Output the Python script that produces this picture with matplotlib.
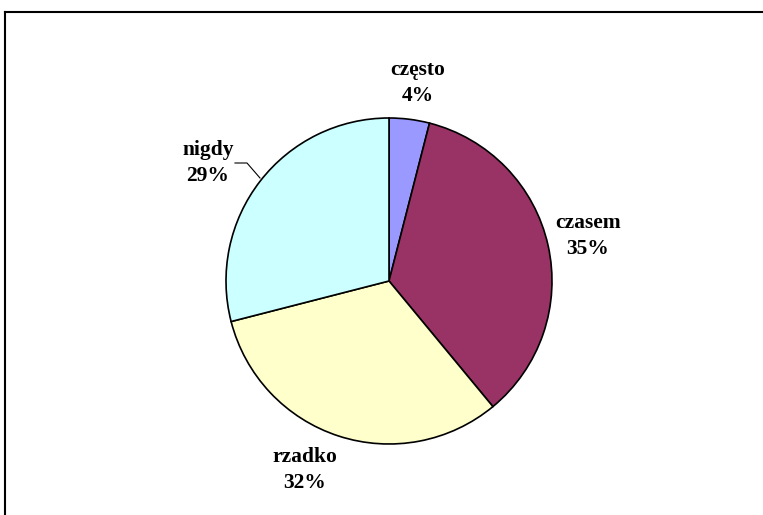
import matplotlib.pyplot as plt
from matplotlib.lines import Line2D

# data
labels = ["często", "czasem", "rzadko", "nigdy"]
values = [4, 35, 32, 29]
colors = ["#9999FF", "#993366", "#FFFFCC", "#CCFFFF"]

W, H = 763, 515
fig = plt.figure(figsize=(W / 100, H / 100), dpi=100)

# pie axes in pixel-like units, centre at (389, 281) from top-left
cx, cy, R = 389, 281, 163
half = 200
ax = fig.add_axes([(cx - half) / W, (H - cy - half) / H, 2 * half / W, 2 * half / H])

ax.pie(values, colors=colors, startangle=90, counterclock=False, radius=R,
       wedgeprops=dict(edgecolor="black", linewidth=1.2))
ax.set_xlim(-half, half)
ax.set_ylim(-half, half)
ax.set_aspect("equal")
ax.axis("off")

font = dict(family=["Liberation Serif", "DejaVu Serif"], fontsize=15.5,
            fontweight="bold", ha="center", va="center", linespacing=1.4)

# label positions given in image pixels (x, y from top)
label_pos = [(418, 83), (588, 236), (305, 470), (208, 163)]
for lab, v, (px, py) in zip(labels, values, label_pos):
    ax.text(px - cx, cy - py, f"{lab}\n{v}%", clip_on=False, **font)

# leader line for "nigdy"
ax.plot([235 - cx, 247 - cx, 260 - cx], [cy - 163, cy - 163, cy - 178],
        color="black", linewidth=0.8, clip_on=False)

# chart area border (left and top only visible)
fig.add_artist(Line2D([4.5 / W, 4.5 / W], [0, 1 - 12 / H], color="black", lw=1.5))
fig.add_artist(Line2D([4.5 / W, 1], [1 - 12 / H, 1 - 12 / H], color="black", lw=1.5))

fig.savefig("out.png", dpi=100)
